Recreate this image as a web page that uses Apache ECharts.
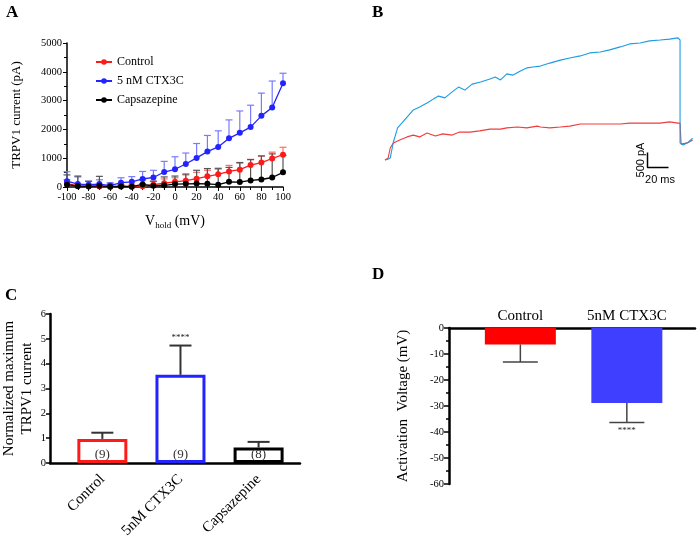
<!DOCTYPE html>
<html>
<head>
<meta charset="utf-8">
<script src="https://cdn.jsdelivr.net/npm/echarts@6/dist/echarts.min.js"></script>
<style>
  html, body { margin: 0; padding: 0; background: #fff; }
  #main { width: 700px; height: 536px; }
</style>
</head>
<body>
<div id="main"></div>
<script>
// ---- panel A: I-V curves (mean + upper error) ----
const vhold = [-100, -90, -80, -70, -60, -50, -40, -30, -20, -10, 0, 10, 20, 30, 40, 50, 60, 70, 80, 90, 100];
const ctrlMean = [120, 50, 40, 20, 10, 30, 20, 30, 80, 130, 180, 220, 290, 370, 440, 540, 600, 760, 850, 990, 1120];
const ctrlTop  = [250, 120, 80, 60, 40, 80, 70, 120, 200, 280, 320, 420, 510, 580, 620, 750, 830, 960, 1070, 1210, 1380];
const ctxMean  = [200, 100, 80, 100, 50, 150, 180, 280, 330, 520, 615, 800, 1010, 1230, 1390, 1690, 1880, 2080, 2470, 2760, 3600];
const ctxTop   = [530, 350, 200, 250, 150, 320, 360, 540, 580, 890, 1050, 1180, 1510, 1790, 1950, 2330, 2640, 2840, 3260, 3680, 3950];
const capsMean = [80, 30, 20, 40, 10, 20, 10, 90, 40, 60, 100, 110, 120, 110, 80, 180, 170, 230, 260, 330, 510];
const capsTop  = [420, 380, 200, 370, 100, 60, 40, 250, 200, 350, 380, 450, 580, 640, 650, 680, 850, 950, 1080, 1150, 1100];

// ---- panel B: example current traces [ms, pA] ----
const traceCtx = [[0,0],[3,30],[5,70],[8,600],[12,1070],[21,1430],[27,1670],[33,1770],[40,1900],[46,2030],[51,2130],[57,2070],[64,2270],[70,2430],[76,2330],[83,2530],[91,2600],[100,2700],[105,2770],[110,2670],[116,2870],[122,2830],[129,2970],[135,3070],[141,3100],[148,3130],[157,3230],[167,3330],[176,3400],[186,3470],[195,3570],[205,3600],[214,3670],[224,3770],[233,3870],[243,3900],[252,3970],[262,4000],[271,4030],[279,4070],[281,4000],[281,570],[284,500],[289,600],[293,730]];
const traceCtrl = [[0,0],[3,70],[5,400],[8,570],[14,670],[21,770],[27,830],[33,770],[40,900],[48,800],[55,870],[64,830],[71,930],[81,930],[90,970],[100,1030],[110,1030],[116,1070],[126,1100],[135,1070],[145,1130],[148,1100],[157,1070],[167,1100],[176,1130],[186,1200],[195,1200],[205,1200],[214,1200],[224,1200],[233,1230],[243,1230],[252,1230],[262,1230],[271,1270],[279,1230],[281,1230],[282,530],[288,570],[293,670]];
const scaleBar = [[250, 250], [250, -250], [270, -250]];  // 500 pA / 20 ms

// ---- panel C: normalized max current ----
const groupsC = ['Control', '5nM CTX3C', 'Capsazepine'];
const normMax = [0.97, 3.55, 0.62];
const normTop = [1.22, 4.73, 0.85];
const nCells  = [9, 9, 8];
const sigC    = ['', '****', ''];

// ---- panel D: activation voltage ----
const groupsD = ['Control', '5nM CTX3C'];
const actV    = [-6.3, -28.8];
const actLow  = [-13.1, -36.3];
const sigD    = ['', '****'];

const catPos = [0.67, 1.67, 2.67];
const serif = 'Liberation Serif';
const RED = '#ff1a1a', BLUE = '#2323ff';

function errBars(capW, color, lw, sig, sigBelow) {
  return function (params, api) {
    const x = api.value(0), m = api.value(1), t = api.value(2);
    const p0 = api.coord([x, m]), p1 = api.coord([x, t]);
    const st = { stroke: color, lineWidth: lw };
    const kids = [
      { type: 'line', shape: { x1: p0[0], y1: p0[1], x2: p1[0], y2: p1[1] }, style: st },
      { type: 'line', shape: { x1: p1[0] - capW / 2, y1: p1[1], x2: p1[0] + capW / 2, y2: p1[1] }, style: st }
    ];
    if (sig && sig[params.dataIndex]) {
      kids.push({ type: 'text', x: p1[0], y: sigBelow ? p1[1] + 4 : p1[1] - 3,
        style: { text: sig[params.dataIndex], fill: '#222', font: '9px ' + serif, align: 'center',
                 verticalAlign: sigBelow ? 'top' : 'bottom' } });
    }
    return { type: 'group', children: kids };
  };
}

function ivSeries(name, color, errColor, mean, top) {
  return [{
    name: name, type: 'line', xAxisIndex: 0, yAxisIndex: 0, z: 3,
    data: vhold.map((v, i) => [v, mean[i]]),
    symbol: 'circle', symbolSize: 6,
    lineStyle: { color: color, width: 1.3 }, itemStyle: { color: color }
  }, {
    type: 'custom', xAxisIndex: 0, yAxisIndex: 0, z: 2,
    renderItem: errBars(7, errColor, 1.2),
    encode: { x: 0, y: [1, 2] },
    data: vhold.map((v, i) => [v, mean[i], top[i]])
  }];
}

const axBlack = { onZero: false, lineStyle: { color: '#000', width: 1.5 } };
const chart = echarts.init(document.getElementById('main'));

const option = {
  animation: false,
  textStyle: { fontFamily: serif },
  graphic: [
    { type: 'text', left: 6, top: 4, style: { text: 'A', font: 'bold 17px ' + serif, fill: '#000' } },
    { type: 'text', left: 372, top: 4, style: { text: 'B', font: 'bold 17px ' + serif, fill: '#000' } },
    { type: 'text', left: 5, top: 287, style: { text: 'C', font: 'bold 17px ' + serif, fill: '#000' } },
    { type: 'text', left: 372, top: 266, style: { text: 'D', font: 'bold 17px ' + serif, fill: '#000' } },
    { type: 'text', x: 641, y: 160, rotation: Math.PI / 2,
      style: { text: '500 pA', font: '11px Liberation Sans', fill: '#000', align: 'center', verticalAlign: 'middle' } },
    { type: 'text', x: 660, y: 180,
      style: { text: '20 ms', font: '11px Liberation Sans', fill: '#000', align: 'center', verticalAlign: 'middle' } }
  ],
  legend: {
    data: ['Control', '5 nM CTX3C', 'Capsazepine'],
    orient: 'vertical', left: 90, top: 51, itemGap: 7,
    itemWidth: 16, itemHeight: 7,
    textStyle: { fontFamily: serif, fontSize: 12, color: '#000' }
  },
  grid: [
    { left: 67, top: 43, width: 216, height: 144, outerBoundsMode: 'none' },
    { left: 385, top: 25, width: 315, height: 165, outerBoundsMode: 'none' },
    { left: 50, top: 314, width: 250, height: 149, outerBoundsMode: 'none' },
    { left: 449, top: 328, width: 246, height: 156, outerBoundsMode: 'none' }
  ],
  xAxis: [
    { gridIndex: 0, type: 'value', min: -100, max: 100, interval: 20,
      name: 'V{sub|hold} (mV)', nameLocation: 'middle', nameGap: 26,
      nameTextStyle: { fontFamily: serif, fontSize: 14, color: '#000',
        rich: { sub: { fontFamily: serif, fontSize: 9, verticalAlign: 'bottom', padding: [8, 0, 0, 0] } } },
      axisLine: axBlack, axisTick: { length: 4, lineStyle: { color: '#000' } },
      minorTick: { show: true, splitNumber: 2, length: 3, lineStyle: { color: '#000' } },
      splitLine: { show: false },
      axisLabel: { fontFamily: serif, fontSize: 10.5, color: '#000', margin: 5 } },
    { gridIndex: 1, type: 'value', min: 0, max: 300, show: false },
    { gridIndex: 2, type: 'value', min: 0, max: 3.2,
      axisLine: { onZero: false, lineStyle: { color: '#000', width: 2.5 } }, axisTick: { show: false },
      splitLine: { show: false },
      axisLabel: { customValues: catPos, rotate: 45, margin: 14, fontFamily: serif, fontSize: 15, color: '#000',
        formatter: v => groupsC[Math.round(v - 0.67)] } },
    { gridIndex: 3, type: 'value', min: 0, max: 2.31, position: 'top',
      axisLine: { onZero: false, lineStyle: { color: '#000', width: 2.5 } }, axisTick: { show: false },
      splitLine: { show: false },
      axisLabel: { customValues: catPos.slice(0, 2), margin: 4, fontFamily: serif, fontSize: 15, color: '#000',
        formatter: v => groupsD[Math.round(v - 0.67)] } }
  ],
  yAxis: [
    { gridIndex: 0, type: 'value', min: 0, max: 5000, interval: 1000,
      name: 'TRPV1 current (pA)', nameLocation: 'middle', nameGap: 44,
      nameTextStyle: { fontFamily: serif, fontSize: 13, color: '#000' },
      axisLine: { show: true, ...axBlack }, axisTick: { length: 4, lineStyle: { color: '#000' } },
      minorTick: { show: true, splitNumber: 2, length: 3, lineStyle: { color: '#000' } },
      splitLine: { show: false },
      axisLabel: { fontFamily: serif, fontSize: 10.5, color: '#000', margin: 5, formatter: v => String(v) } },
    { gridIndex: 1, type: 'value', min: -1000, max: 4500, show: false },
    { gridIndex: 2, type: 'value', min: 0, max: 6, interval: 1,
      name: 'Normalized maximum\nTRPV1 current', nameLocation: 'middle', nameGap: 14,
      nameTextStyle: { fontFamily: serif, fontSize: 15, color: '#000', lineHeight: 18 },
      axisLine: { show: true, onZero: false, lineStyle: { color: '#000', width: 2.5 } },
      axisTick: { length: 4, lineStyle: { color: '#000', width: 1.5 } },
      splitLine: { show: false },
      axisLabel: { fontFamily: serif, fontSize: 10.5, color: '#000', margin: 4 } },
    { gridIndex: 3, type: 'value', min: -60, max: 0, interval: 10,
      name: 'Activation  Voltage (mV)', nameLocation: 'middle', nameGap: 38,
      nameTextStyle: { fontFamily: serif, fontSize: 15, color: '#000' },
      axisLine: { show: true, onZero: false, lineStyle: { color: '#000', width: 2.5 } },
      axisTick: { length: 5, lineStyle: { color: '#000', width: 1.5 } },
      minorTick: { show: true, splitNumber: 2, length: 3, lineStyle: { color: '#000', width: 1.5 } },
      splitLine: { show: false },
      axisLabel: { fontFamily: serif, fontSize: 10.5, color: '#000', margin: 5 } }
  ],
  series: [
    ...ivSeries('Control', RED, '#ff6b6b', ctrlMean, ctrlTop),
    ...ivSeries('5 nM CTX3C', BLUE, '#7a7aff', ctxMean, ctxTop),
    ...ivSeries('Capsazepine', '#000', '#555', capsMean, capsTop),

    { type: 'line', xAxisIndex: 1, yAxisIndex: 1, data: traceCtrl, symbol: 'none',
      lineStyle: { color: '#f03c3c', width: 1.1 } },
    { type: 'line', xAxisIndex: 1, yAxisIndex: 1, data: traceCtx, symbol: 'none',
      lineStyle: { color: '#1d9be3', width: 1.1 } },
    { type: 'line', xAxisIndex: 1, yAxisIndex: 1, data: scaleBar, symbol: 'none',
      lineStyle: { color: '#000', width: 1.5 } },

    { type: 'bar', xAxisIndex: 2, yAxisIndex: 2, barWidth: 50, z: 2,
      data: normMax.map((v, i) => ({ value: [catPos[i], v],
        itemStyle: { color: '#fff', borderColor: [RED, BLUE, '#000'][i], borderWidth: 3 } })),
      label: { show: true, position: 'insideBottom', distance: 2, fontFamily: serif, fontSize: 13, color: '#333',
        formatter: p => '(' + nCells[p.dataIndex] + ')' } },
    { type: 'custom', xAxisIndex: 2, yAxisIndex: 2, z: 3,
      renderItem: errBars(22, '#333', 2, sigC, false),
      encode: { x: 0, y: [1, 2] },
      data: normMax.map((v, i) => [catPos[i], v, normTop[i]]) },

    { type: 'bar', xAxisIndex: 3, yAxisIndex: 3, barWidth: 71,
      data: actV.map((v, i) => ({ value: [catPos[i], v], itemStyle: { color: ['#ff0000', '#3f3fff'][i] } })) },
    { type: 'custom', xAxisIndex: 3, yAxisIndex: 3, z: 3,
      renderItem: errBars(35, '#444', 1.5, sigD, true),
      encode: { x: 0, y: [1, 2] },
      data: actV.map((v, i) => [catPos[i], v, actLow[i]]) }
  ]
};

chart.setOption(option);
</script>
</body>
</html>
